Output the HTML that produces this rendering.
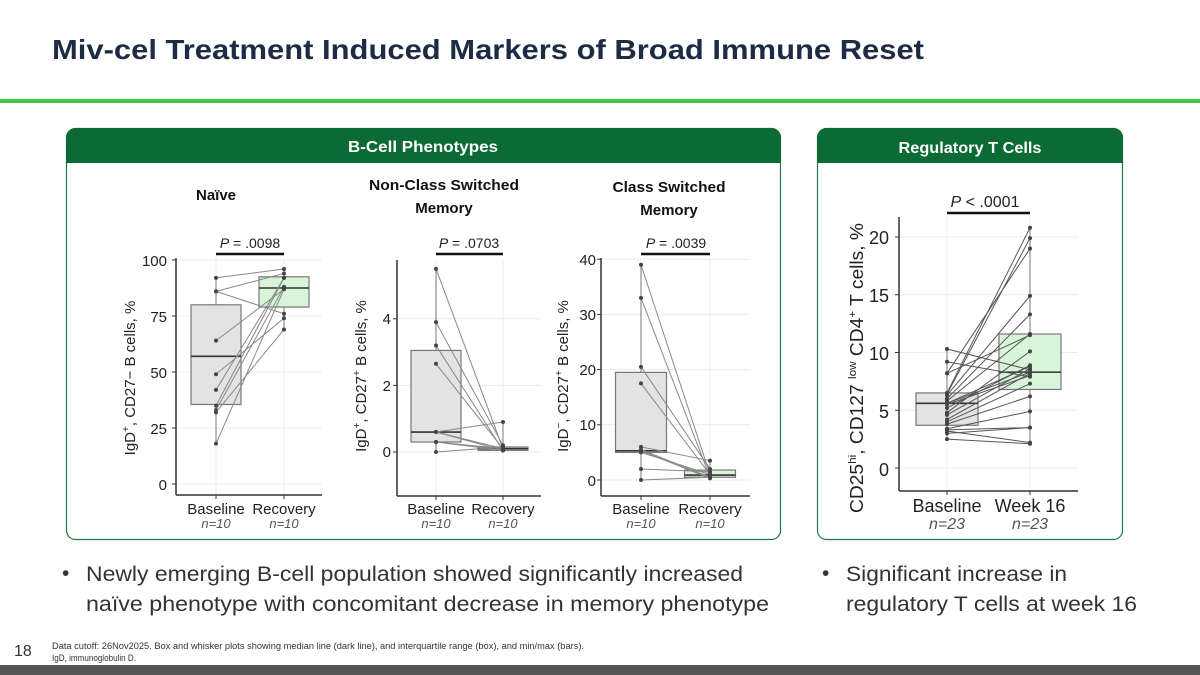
<!DOCTYPE html>
<html><head><meta charset="utf-8"><style>
html,body{margin:0;padding:0;width:1200px;height:675px;overflow:hidden;background:#fff}
svg{display:block}
text{font-family:"Liberation Sans",sans-serif}
</style></head><body>
<svg id="s" width="1200" height="675" viewBox="0 0 1200 675" xmlns="http://www.w3.org/2000/svg">
<text x="52" y="59" font-size="28" font-weight="bold" fill="#1d2b45" textLength="872" lengthAdjust="spacingAndGlyphs">Miv-cel Treatment Induced Markers of Broad Immune Reset</text>
<rect x="0" y="99" width="1200" height="4" fill="#3ec64c"/>
<rect x="66.5" y="128.5" width="714" height="411" rx="9" fill="#fff" stroke="#1e7a40" stroke-width="1.2"/>
<path d="M66 138 a10 10 0 0 1 10 -10 h695 a10 10 0 0 1 10 10 v25 h-715z" fill="#0c6a35"/>
<text x="423" y="152" font-size="16" font-weight="bold" fill="#fff" text-anchor="middle" textLength="150" lengthAdjust="spacingAndGlyphs">B-Cell Phenotypes</text>
<rect x="817.5" y="128.5" width="305" height="411" rx="9" fill="#fff" stroke="#1e7a40" stroke-width="1.2"/>
<path d="M817 138 a10 10 0 0 1 10 -10 h286 a10 10 0 0 1 10 10 v25 h-306z" fill="#0c6a35"/>
<text x="970" y="153" font-size="16" font-weight="bold" fill="#fff" text-anchor="middle" textLength="143" lengthAdjust="spacingAndGlyphs">Regulatory T Cells</text>
<g font-size="15" font-weight="bold" fill="#111" text-anchor="middle">
<text x="216" y="200">Naïve</text>
<text x="444" y="190" textLength="150" lengthAdjust="spacingAndGlyphs">Non-Class Switched</text>
<text x="444" y="213">Memory</text>
<text x="669" y="192" textLength="113" lengthAdjust="spacingAndGlyphs">Class Switched</text>
<text x="669" y="215">Memory</text>
</g>
<g id="plots"></g>
<g font-size="15" fill="#222" text-anchor="end">
<text x="167" y="266">100</text><text x="167" y="322">75</text><text x="167" y="378">50</text><text x="167" y="434">25</text><text x="167" y="490">0</text>
<text x="391" y="324">4</text><text x="391" y="391">2</text><text x="391" y="457">0</text>
<text x="596" y="265">40</text><text x="596" y="320">30</text><text x="596" y="375">20</text><text x="596" y="430">10</text><text x="596" y="486">0</text>
</g>
<g font-size="18" fill="#222" text-anchor="end">
<text x="889" y="244">20</text><text x="889" y="302">15</text><text x="889" y="360">10</text><text x="889" y="418">5</text><text x="889" y="476">0</text>
</g>
<g font-size="15" fill="#222" text-anchor="middle">
<text x="216" y="514">Baseline</text><text x="284" y="514">Recovery</text>
<text x="436" y="514">Baseline</text><text x="503" y="514">Recovery</text>
<text x="641" y="514">Baseline</text><text x="710" y="514">Recovery</text>
</g>
<g font-size="18" fill="#222" text-anchor="middle">
<text x="947" y="512">Baseline</text><text x="1030" y="512">Week 16</text>
</g>
<g font-size="13" font-style="italic" fill="#555" text-anchor="middle">
<text x="216" y="528">n=10</text><text x="284" y="528">n=10</text>
<text x="436" y="528">n=10</text><text x="503" y="528">n=10</text>
<text x="641" y="528">n=10</text><text x="710" y="528">n=10</text>
</g>
<g font-size="16" font-style="italic" fill="#555" text-anchor="middle">
<text x="947" y="529">n=23</text><text x="1030" y="529">n=23</text>
</g>
<g font-size="14" fill="#222" text-anchor="middle">
<text x="250" y="248"><tspan font-style="italic">P</tspan> = .0098</text>
<text x="469" y="248"><tspan font-style="italic">P</tspan> = .0703</text>
<text x="676" y="248"><tspan font-style="italic">P</tspan> = .0039</text>
<text x="985" y="207" font-size="16"><tspan font-style="italic">P</tspan> &lt; .0001</text>
</g>
<g stroke="#111" stroke-width="2.5">
<line x1="216" y1="254" x2="284" y2="254"/><line x1="436" y1="254" x2="503" y2="254"/><line x1="641" y1="254" x2="710" y2="254"/><line x1="947" y1="213" x2="1030" y2="213"/>
</g>
<g font-size="15" fill="#222" text-anchor="middle">
<text transform="translate(135,378) rotate(-90)">IgD<tspan font-size="10" dy="-6">+</tspan><tspan dy="6">, CD27− B cells, %</tspan></text>
<text transform="translate(366,376) rotate(-90)">IgD<tspan font-size="10" dy="-6">+</tspan><tspan dy="6">, CD27</tspan><tspan font-size="10" dy="-6">+</tspan><tspan dy="6"> B cells, %</tspan></text>
<text transform="translate(568,376) rotate(-90)">IgD<tspan font-size="10" dy="-6">−</tspan><tspan dy="6">, CD27</tspan><tspan font-size="10" dy="-6">+</tspan><tspan dy="6"> B cells, %</tspan></text>
<text transform="translate(863,368) rotate(-90)" font-size="18" textLength="290" lengthAdjust="spacingAndGlyphs">CD25<tspan font-size="11" dy="-7">hi</tspan><tspan dy="7">, CD127 </tspan><tspan font-size="11" dy="-7">low</tspan><tspan dy="7"> CD4</tspan><tspan font-size="11" dy="-7">+</tspan><tspan dy="7"> T cells, %</tspan></text>
</g>
<g font-size="21" fill="#333">
<text x="62" y="580">•</text>
<text x="86" y="581" textLength="657" lengthAdjust="spacingAndGlyphs">Newly emerging B-cell population showed significantly increased</text>
<text x="86" y="611" textLength="683" lengthAdjust="spacingAndGlyphs">naïve phenotype with concomitant decrease in memory phenotype</text>
<text x="822" y="580">•</text>
<text x="846" y="581" textLength="221" lengthAdjust="spacingAndGlyphs">Significant increase in</text>
<text x="846" y="611" textLength="291" lengthAdjust="spacingAndGlyphs">regulatory T cells at week 16</text>
</g>
<text x="14" y="656" font-size="16" fill="#333">18</text>
<g font-size="9" fill="#333">
<text x="52" y="649" textLength="532" lengthAdjust="spacingAndGlyphs">Data cutoff: 26Nov2025. Box and whisker plots showing median line (dark line), and interquartile range (box), and min/max (bars).</text>
<text x="52" y="661" textLength="84" lengthAdjust="spacingAndGlyphs">IgD, immunoglobulin D.</text>
</g>
<rect x="0" y="665" width="1200" height="10" fill="#555"/>
</svg>
<script>
var NS="http://www.w3.org/2000/svg",G=document.getElementById("plots");
function el(t,a){var e=document.createElementNS(NS,t);for(var k in a)e.setAttribute(k,a[k]);G.appendChild(e);return e}
function plot(o){
 var y=function(v){return o.y0-o.k*v};
 o.grid.forEach(function(v){el("line",{x1:o.ax,x2:o.ax2,y1:y(v),y2:y(v),stroke:"#ececec","stroke-width":1})});
 [o.bx,o.rx].forEach(function(x){el("line",{x1:x,x2:x,y1:o.top,y2:o.bot,stroke:"#ececec","stroke-width":1})});
 var bs=o.pairs.map(function(p){return p[0]}),rs=o.pairs.map(function(p){return p[1]});
 function box(x,vals,q,fill){
  var mn=Math.min.apply(0,vals),mx=Math.max.apply(0,vals);
  el("line",{x1:x,x2:x,y1:y(mx),y2:y(mn),stroke:"#777","stroke-width":1});
  el("rect",{x:x-o.bw/2,y:y(q[2]),width:o.bw,height:Math.max(2,y(q[0])-y(q[2])),fill:fill,stroke:"#777","stroke-width":1.2});
  el("line",{x1:x-o.bw/2,x2:x+o.bw/2,y1:y(q[1]),y2:y(q[1]),stroke:"#333","stroke-width":1.6});
 }
 box(o.bx,bs,o.bq,"#e3e3e3");box(o.rx,rs,o.rq,"#d9f5d9");
 o.pairs.forEach(function(p){
  el("line",{x1:o.bx,y1:y(p[0]),x2:o.rx,y2:y(p[1]),stroke:o.lc,"stroke-width":1});
  el("circle",{cx:o.bx,cy:y(p[0]),r:2,fill:"#444"});el("circle",{cx:o.rx,cy:y(p[1]),r:2,fill:"#444"});
 });
 el("line",{x1:o.ax,x2:o.ax,y1:o.top,y2:o.bot,stroke:"#333","stroke-width":1.5});
 el("line",{x1:o.ax,x2:o.ax2,y1:o.bot,y2:o.bot,stroke:"#333","stroke-width":1.5});
 o.grid.forEach(function(v){el("line",{x1:o.ax-4,x2:o.ax,y1:y(v),y2:y(v),stroke:"#333","stroke-width":1})});
 [o.bx,o.rx].forEach(function(x){el("line",{x1:x,x2:x,y1:o.bot,y2:o.bot+4,stroke:"#333","stroke-width":1})});
}
plot({ax:176,ax2:322,top:258,bot:495,y0:484,k:2.24,bx:216,rx:284,bw:50,grid:[0,25,50,75,100],lc:"#888",
 bq:[35.5,57,80],rq:[79,87.5,92.5],
 pairs:[[92,96],[86,94],[86,76],[64,87],[49,74],[42,92],[33,88],[32,69],[18,87],[35,92]]});
plot({ax:397,ax2:541,top:260,bot:496,y0:452,k:33.3,bx:436,rx:503,bw:50,grid:[0,2,4],lc:"#888",
 bq:[0.3,0.6,3.05],rq:[0.05,0.1,0.15],
 pairs:[[5.5,0.1],[3.9,0.2],[3.2,0.05],[2.65,0.1],[0.6,0.9],[0.3,0.1],[0.3,0.05],[0,0.15],[0.6,0.1],[0.6,0.05]]});
plot({ax:601,ax2:750,top:258,bot:496,y0:480,k:5.52,bx:641,rx:710,bw:51,grid:[0,10,20,30,40],lc:"#888",
 bq:[5,5.3,19.5],rq:[0.5,0.9,1.8],
 pairs:[[39,1],[33,0.5],[20.5,2],[17.5,1],[6,3.5],[5.5,0.5],[5,1],[2,1.5],[5.3,0.3],[0,0.5]]});
plot({ax:899,ax2:1078,top:217,bot:491,y0:468,k:11.55,bx:947,rx:1030,bw:62,grid:[0,5,10,15,20],lc:"#555",
 bq:[3.7,5.6,6.5],rq:[6.8,8.3,11.6],
 pairs:[[10.3,8.5],[9.2,7.9],[8.2,19],[8.2,11.5],[6.5,20.8],[6.4,19.9],[6.3,14.9],[6,13.3],[5.8,11.6],[5.6,8.8],[5.6,8.3],[5.5,8],[5.2,8.9],[4.8,10.1],[4.6,8.6],[4.2,8.2],[4,7.3],[3.8,6.2],[3.4,4.9],[3.3,3.5],[3.2,2.2],[3,3.5],[2.5,2.1]]});
</script>
</body></html>
